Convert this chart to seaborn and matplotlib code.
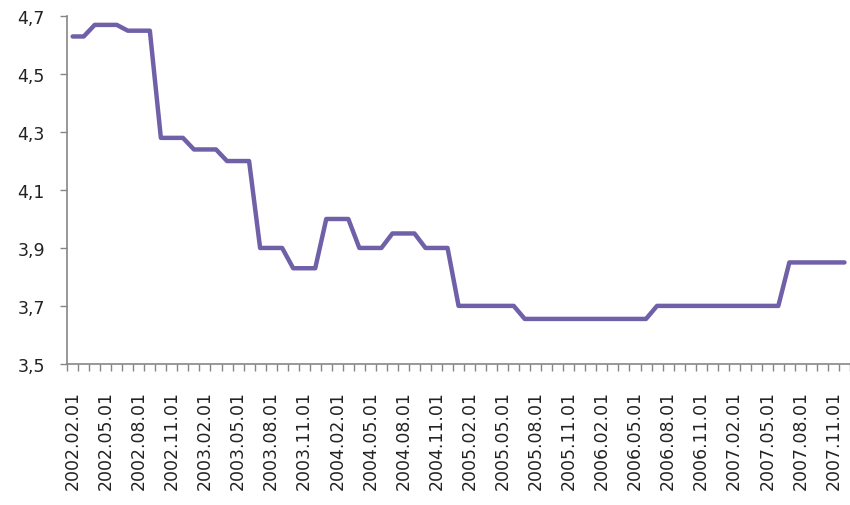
import pandas as pd
import seaborn as sns
import matplotlib.pyplot as plt
from matplotlib.ticker import FixedLocator, FuncFormatter

# monthly values, 2002.02 .. 2007.12
months = pd.date_range('2002-02-01', '2007-12-01', freq='MS')
rate = ([4.63] * 2 + [4.67] * 3 + [4.65] * 3 + [4.28] * 3 + [4.24] * 3 + [4.20] * 3
        + [3.90] * 3 + [3.83] * 3 + [4.00] * 3 + [3.90] * 3 + [3.95] * 3 + [3.90] * 3
        + [3.70] * 6 + [3.655] * 12 + [3.70] * 12 + [3.85] * 6)
tick_labels = [d.strftime('%Y.%m.%d') for d in months[::3]]

df = pd.DataFrame({'pos': range(len(months)), 'rate': rate})

sns.set_style('white')
plt.rcParams['font.family'] = ['DejaVu Sans']

fig, ax = plt.subplots(figsize=(8.5, 5.06), dpi=100)
fig.subplots_adjust(left=0.079, right=1.0, bottom=0.279, top=0.966)

sns.lineplot(data=df, x='pos', y='rate', ax=ax, color='#7060a8', linewidth=3.2)

ax.set_xlim(-0.5, len(months) - 0.5)
ax.set_ylim(3.5, 4.7)
ax.set_yticks([3.5, 3.7, 3.9, 4.1, 4.3, 4.5, 4.7])
ax.yaxis.set_major_formatter(FuncFormatter(lambda v, p: f'{v:.1f}'.replace('.', ',')))

ax.set_xticks(range(0, len(months), 3))
ax.set_xticklabels(tick_labels, rotation=90)
ax.xaxis.set_minor_locator(FixedLocator([i - 0.5 for i in range(len(months) + 1)]))

ax.tick_params(axis='x', which='major', length=0, pad=19, labelsize=12.5, colors='#222222')
ax.tick_params(axis='x', which='minor', length=5, width=1, color='#868686', direction='out', bottom=True)
ax.tick_params(axis='y', which='major', length=5, width=1, color='#868686', direction='out',
               left=True, pad=11, labelsize=12.5, labelcolor='#222222')

ax.set_xlabel('')
ax.set_ylabel('')
sns.despine(ax=ax, top=True, right=True)
for side in ('left', 'bottom'):
    ax.spines[side].set_color('#868686')
    ax.spines[side].set_linewidth(1.2)

plt.savefig('out.png', dpi=100)
